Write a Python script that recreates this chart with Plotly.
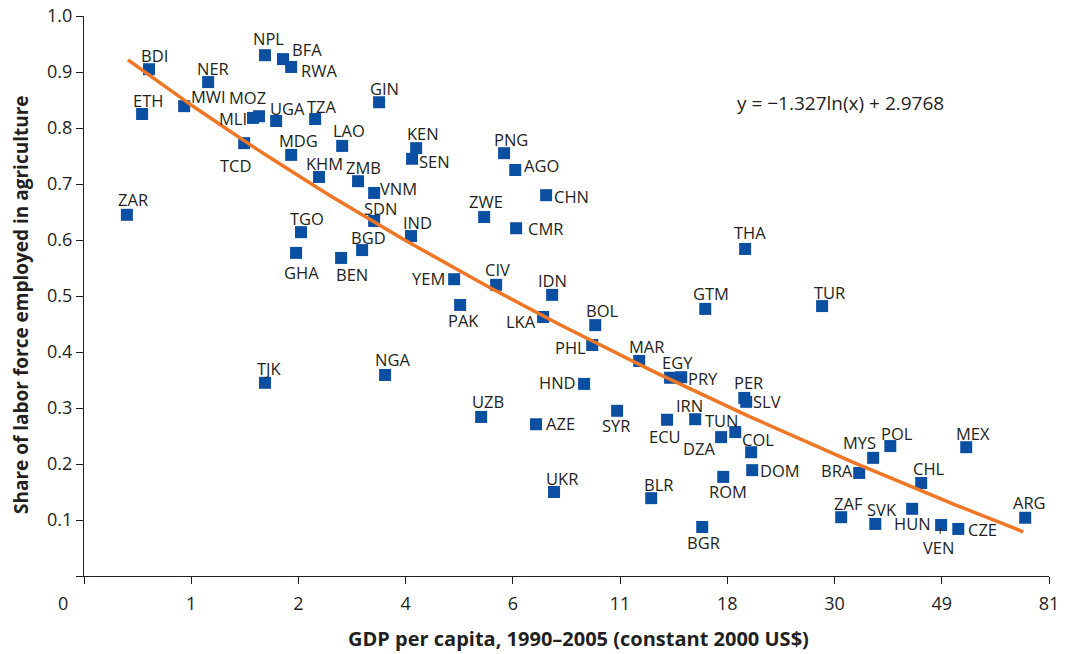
import plotly.graph_objects as go

# ---------------- data ----------------
countries = ["BDI","ETH","ZAR","MWI","NER","NPL","BFA","RWA","MOZ","MLI","UGA","TZA","GIN","TCD",
             "MDG","LAO","KHM","ZMB","VNM","SDN","IND","TGO","GHA","BGD","BEN","KEN","SEN","TJK",
             "NGA","PNG","AGO","CHN","ZWE","CMR","THA","YEM","CIV","IDN","PAK","LKA","BOL","GTM",
             "PHL","MAR","EGY","PRY","HND","UZB","AZE","SYR","ECU","IRN","PER","SLV","TUN","DZA",
             "COL","DOM","ROM","UKR","BLR","BGR","TUR","MYS","POL","MEX","BRA","CHL","ZAF","SVK",
             "HUN","VEN","CZE","ARG"]
# x: log GDP per capita (axis position), y: share of labor force in agriculture
log_gdp = [4.803,4.771,4.700,4.967,5.079,5.344,5.428,5.466,5.316,5.288,5.396,5.578,5.876,5.247,
           5.466,5.704,5.596,5.778,5.853,5.853,6.025,5.512,5.489,5.797,5.699,6.049,6.030,5.344,
           5.904,6.459,6.511,6.655,6.366,6.515,7.583,6.226,6.422,6.683,6.254,6.641,6.884,7.397,
           6.870,7.089,7.233,7.285,6.832,6.352,6.608,6.986,7.219,7.350,7.579,7.588,7.537,7.471,
           7.611,7.616,7.481,6.692,7.145,7.383,7.942,8.180,8.260,8.614,8.115,8.404,8.031,8.190,
           8.362,8.497,8.577,8.889]
ag_share = [0.905,0.825,0.645,0.839,0.882,0.930,0.923,0.909,0.821,0.818,0.8125,0.816,0.846,0.773,
            0.752,0.768,0.7125,0.705,0.684,0.634,0.607,0.614,0.577,0.582,0.568,0.764,0.745,0.345,
            0.359,0.755,0.725,0.680,0.641,0.621,0.584,0.530,0.520,0.502,0.484,0.4625,0.448,0.477,
            0.4125,0.384,0.354,0.355,0.343,0.284,0.271,0.295,0.279,0.280,0.318,0.311,0.257,0.248,
            0.221,0.189,0.177,0.150,0.139,0.0875,0.482,0.211,0.232,0.230,0.184,0.166,0.105,0.093,
            0.120,0.091,0.084,0.104]

x_tickvals = [4.5,5.0,5.5,6.0,6.5,7.0,7.5,8.0,8.5,9.0]
x_ticktext = ["", "1","2","4","6","11","18","30","49","81"]
y_tickvals = [0,0.1,0.2,0.3,0.4,0.5,0.6,0.7,0.8,0.9,1.0]
y_ticktext = ["","0.1","0.2","0.3","0.4","0.5","0.6","0.7","0.8","0.9","1.0"]

# fitted trend printed on chart: y = -1.327 ln(x) + 2.9768
trend_slope = -1.327
trend_intercept = 2.9768
trend_x_start = 4.705
trend_x_end = 8.880
equation_text = "y = \u22121.327ln(x) + 2.9768"

# label offsets in pixels (dx right, dy down) relative to point
label_offsets = {
    "BDI":(6,-14),"ETH":(6,-14),"ZAR":(6,-15),"MWI":(24,-10),"NER":(5,-14),"NPL":(4,-17),
    "BFA":(24,-10),"RWA":(28,4),"MOZ":(-11,-19),"MLI":(-20,1),"UGA":(11,-13),"TZA":(7,-13),
    "GIN":(5,-14),"TCD":(-9,22),"MDG":(7,-14),"LAO":(7,-15),"KHM":(5,-14),"ZMB":(5,-14),
    "VNM":(24,-4),"SDN":(6,-12),"IND":(6,-14),"TGO":(6,-14),"GHA":(5,20),"BGD":(6,-13),
    "BEN":(11,17),"KEN":(7,-15),"SEN":(22,3),"TJK":(5,-14),"NGA":(7,-15),"PNG":(7,-14),
    "AGO":(26,-5),"CHN":(25,1),"ZWE":(2,-16),"CMR":(29,0),"THA":(5,-16),"YEM":(-26,-1),
    "CIV":(1,-15),"IDN":(0,-14),"PAK":(3,16),"LKA":(-22,4),"BOL":(7,-15),"GTM":(6,-15),
    "PHL":(-22,2),"MAR":(7,-14),"EGY":(7,-15),"PRY":(22,1),"HND":(-27,-1),"UZB":(7,-15),
    "AZE":(24,-1),"SYR":(-1,15),"ECU":(-2,17),"IRN":(-6,-14),"PER":(4,-15),"SLV":(21,0),
    "TUN":(-13,-12),"DZA":(-22,11),"COL":(7,-13),"DOM":(28,0),"ROM":(5,15),"UKR":(8,-14),
    "BLR":(7,-14),"BGR":(1,15),"TUR":(7,-14),"MYS":(-14,-15),"POL":(7,-13),"MEX":(7,-14),
    "BRA":(-22,-2),"CHL":(8,-15),"ZAF":(7,-14),"SVK":(7,-14),"HUN":(0,15),"VEN":(-3,22),
    "CZE":(24,1),"ARG":(4,-15),
}

# ---------------- styles ----------------
BLUE = "#0B4FA2"
ORANGE = "#EF7624"
TEXT = "#231F20"
FONT = "Open Sans"
LABEL_SIZE = 16.5

import numpy as np
tx = np.linspace(trend_x_start, trend_x_end, 80)
ty = trend_slope * np.log(tx) + trend_intercept

fig = go.Figure()
fig.add_trace(go.Scatter(x=log_gdp, y=ag_share, mode="markers",
                         marker=dict(symbol="square", size=12, color=BLUE, line=dict(width=0)),
                         hoverinfo="skip", showlegend=False, cliponaxis=False))
fig.add_trace(go.Scatter(x=tx, y=ty, mode="lines", line=dict(color=ORANGE, width=3.5),
                         hoverinfo="skip", showlegend=False))

annotations = []
for c, xv, yv in zip(countries, log_gdp, ag_share):
    dx, dy = label_offsets[c]
    if c == "VEN":
        annotations.append(dict(x=xv, y=yv, xref="x", yref="y", text=c, showarrow=True,
                                arrowhead=0, arrowwidth=1, arrowcolor=TEXT, ax=dx, ay=dy,
                                standoff=3, font=dict(family=FONT, size=LABEL_SIZE, color=TEXT)))
    else:
        annotations.append(dict(x=xv, y=yv, xref="x", yref="y", text=c, showarrow=False,
                                xanchor="center", yanchor="middle",
                                xshift=dx, yshift=-dy, font=dict(family=FONT, size=LABEL_SIZE, color=TEXT)))

def paper_note(px, py, text, size, angle=0):
    return dict(x=(px - 84) / 965, y=(576 - py) / 560, xref="paper", yref="paper", text=text,
                xanchor="center", yanchor="middle", textangle=angle, showarrow=False,
                font=dict(family=FONT, size=size, color=TEXT))

annotations.append(paper_note(840, 103, equation_text, 19))
annotations.append(paper_note(63, 603, "0", 18))
annotations.append(paper_note(578, 638, "<b>GDP per capita, 1990\u20132005 (constant 2000 US$)</b>", 20))
annotations.append(paper_note(21, 305, "<b>Share of labor force employed in agriculture</b>", 19, -90))

fig.update_layout(
    width=1065, height=654,
    margin=dict(l=84, r=16, t=16, b=78, autoexpand=False),
    paper_bgcolor="white", plot_bgcolor="white",
    font=dict(family=FONT, color=TEXT),
    annotations=annotations,
)
fig.update_xaxes(range=[4.5, 9.0], tickvals=x_tickvals, ticktext=x_ticktext, automargin=False,
                 showgrid=False, zeroline=False, showline=True, linecolor=TEXT, linewidth=1.2,
                 ticks="outside", ticklen=7, tickcolor=TEXT, tickwidth=1.2,
                 tickfont=dict(family=FONT, size=18, color=TEXT), ticklabelstandoff=4)
fig.update_yaxes(range=[0, 1.0], tickvals=y_tickvals, ticktext=y_ticktext, automargin=False,
                 showgrid=False, zeroline=False, showline=True, linecolor=TEXT, linewidth=1.2,
                 ticks="outside", ticklen=7, tickcolor=TEXT, tickwidth=1.2,
                 tickfont=dict(family=FONT, size=18, color=TEXT))

fig.write_html("out.html", config={"displayModeBar": False},
               post_script="document.body.style.margin='0px';document.body.style.overflow='hidden';")
